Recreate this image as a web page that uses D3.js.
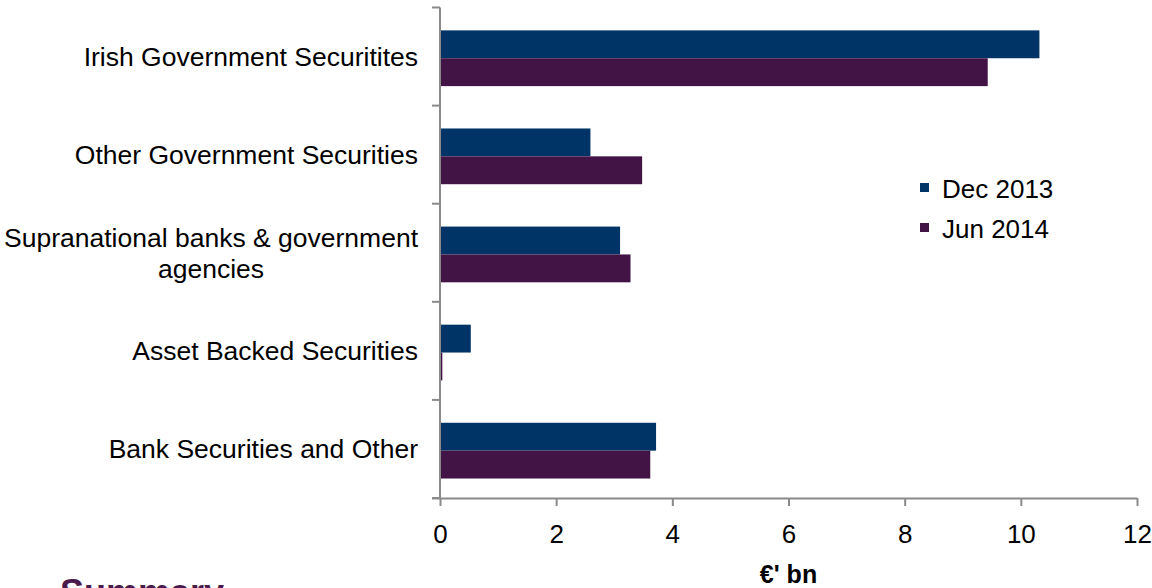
<!DOCTYPE html>
<html>
<head>
<meta charset="utf-8">
<script src="https://cdn.jsdelivr.net/npm/d3@7/dist/d3.min.js"></script>
<style>
  html, body { margin: 0; padding: 0; background: #fff; }
  svg { display: block; font-family: Arial, "Liberation Sans", sans-serif; }
</style>
</head>
<body>
<svg id="chart" width="1152" height="588"></svg>
<script>
// ---- data ----
const categories = [
  ["Irish Government Securitites"],
  ["Other Government Securities"],
  ["Supranational banks & government", "agencies"],
  ["Asset Backed Securities"],
  ["Bank Securities and Other"]
];
const seriesNames = ["Dec 2013", "Jun 2014"];
const dec2013 = [10.32, 2.59, 3.10, 0.53, 3.72];
const jun2014 = [9.43, 3.48, 3.28, 0.04, 3.62];
const xTicks = [0, 2, 4, 6, 8, 10, 12];
const xTitle = "€' bn";
const footerText = "Summary";
const colors = ["#003466", "#421446"];

// ---- layout ----
const svg = d3.select("#chart");
const catKeys = categories.map(c => c.join(" "));
const seriesValues = [dec2013, jun2014];

const x = d3.scaleLinear().domain([0, 12]).range([440, 1137]);
const y = d3.scaleBand().domain(catKeys).range([7.5, 498]).paddingInner(0).paddingOuter(0);
const y1 = d3.scaleBand().domain(seriesNames).range([0, y.bandwidth()])
  .paddingInner(0).paddingOuter(0.76).align(0.54);

const axisColor = "#8a8a8a";

// bars
const groups = svg.append("g").selectAll("g")
  .data(catKeys)
  .join("g")
  .attr("transform", d => `translate(0,${y(d)})`);

groups.selectAll("rect")
  .data((d, i) => seriesNames.map((s, j) => ({ s, v: seriesValues[j][i], j })))
  .join("rect")
  .attr("x", x(0))
  .attr("y", d => y1(d.s))
  .attr("width", d => x(d.v) - x(0))
  .attr("height", y1.bandwidth())
  .attr("fill", d => colors[d.j]);

// y axis line + boundary ticks
const yAxisG = svg.append("g");
yAxisG.append("line")
  .attr("x1", x(0)).attr("x2", x(0))
  .attr("y1", y.range()[0]).attr("y2", y.range()[1])
  .attr("stroke", axisColor).attr("stroke-width", 2);
const bounds = catKeys.map(k => y(k)).concat([y.range()[1]]);
yAxisG.selectAll("line.tick")
  .data(bounds)
  .join("line")
  .attr("class", "tick")
  .attr("x1", x(0) - 8).attr("x2", x(0))
  .attr("y1", d => d).attr("y2", d => d)
  .attr("stroke", axisColor).attr("stroke-width", 2);

// category labels
const labelX = 418;
const labels = svg.append("g").selectAll("text")
  .data(categories)
  .join("text")
  .attr("font-size", "26.5px")
  .attr("fill", "#000")
  .each(function (lines, i) {
    const t = d3.select(this);
    const cy = y(catKeys[i]) + y.bandwidth() / 2;
    const lh = 31;
    const first = cy - (lines.length - 1) * lh / 2 + 9.4;
    const l0 = t.append("tspan")
      .attr("x", labelX).attr("y", first)
      .attr("text-anchor", "end")
      .text(lines[0]);
    if (lines.length > 1) {
      const w = l0.node().getComputedTextLength();
      for (let k = 1; k < lines.length; k++) {
        t.append("tspan")
          .attr("x", labelX - w / 2).attr("y", first + k * lh)
          .attr("text-anchor", "middle")
          .text(lines[k]);
      }
    }
  });

// x axis
const xAxis = d3.axisBottom(x).tickValues(xTicks).tickSize(8).tickPadding(19).tickSizeOuter(0)
  .tickFormat(d3.format("d"));
const xg = svg.append("g").attr("transform", `translate(0,${y.range()[1]})`).call(xAxis);
xg.select(".domain").attr("stroke", axisColor).attr("stroke-width", 2);
xg.selectAll(".tick line").attr("stroke", axisColor).attr("stroke-width", 2);
xg.selectAll(".tick text")
  .attr("font-size", "26px")
  .attr("font-family", "Arial, 'Liberation Sans', sans-serif")
  .attr("fill", "#000");
xg.select(".domain").attr("d", `M${x(0) - 8},0.5H${x(12)}`);

// x title
svg.append("text")
  .attr("x", (x(0) + x(12)) / 2)
  .attr("y", 583)
  .attr("text-anchor", "middle")
  .attr("font-size", "25px")
  .attr("font-weight", "bold")
  .attr("fill", "#000")
  .text(xTitle);

// legend
const legend = svg.append("g").selectAll("g")
  .data(seriesNames)
  .join("g")
  .attr("transform", (d, i) => `translate(920,${183 + i * 40})`);
legend.append("rect")
  .attr("width", 9).attr("height", 9)
  .attr("fill", (d, i) => colors[i]);
legend.append("text")
  .attr("x", 22).attr("y", 15)
  .attr("font-size", "26px")
  .attr("fill", "#000")
  .text(d => d);

// footer title (cut off at bottom)
svg.append("text")
  .attr("x", 60).attr("y", 605)
  .attr("font-size", "36px")
  .attr("font-weight", "bold")
  .attr("fill", "#4a1a4c")
  .text(footerText);
</script>
</body>
</html>
